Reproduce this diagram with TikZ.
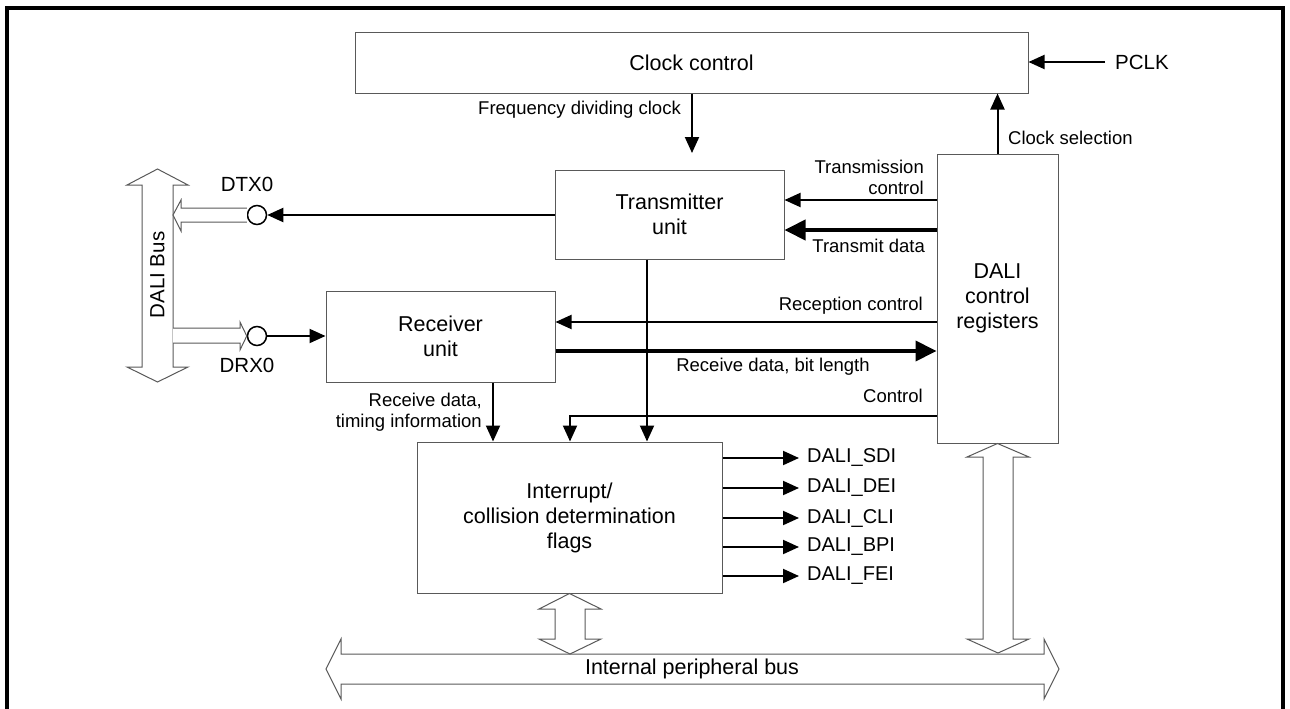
\documentclass[tikz,border=0pt]{standalone}
\usepackage{fontspec}
\setmainfont{Liberation Sans}
\usetikzlibrary{arrows.meta,calc}
\definecolor{boxgray}{gray}{0.35}
\begin{document}
\begin{tikzpicture}[x=1pt,y=-1pt,
  box/.style={draw=boxgray,line width=1pt,inner sep=0pt,align=center,font=\fontsize{21.5}{25}\selectfont},
  lbl/.style={font=\fontsize{18.5}{21}\selectfont,inner sep=0pt},
  sig/.style={font=\fontsize{20.5}{24}\selectfont,inner sep=0pt},
  flg/.style={font=\fontsize{20}{24}\selectfont,inner sep=0pt,anchor=west},
  arr/.style={line width=2pt,-{Triangle[length=16pt,width=14pt]}},
  thk/.style={line width=4pt,-{Triangle[length=21pt,width=20pt]}},
  hollow/.style={draw=boxgray,line width=1pt,fill=white,line join=miter},
  pin/.style={circle,draw=black,line width=1.5pt,fill=white,minimum size=19pt,inner sep=0pt}]
\useasboundingbox (0,0) rectangle (1290,709);
% outer frame
\draw[line width=3.3pt] (7,712) -- (7,8) -- (1283,8) -- (1283,712);

% boxes
\node[box,minimum width=673pt,minimum height=60pt] (clk) at (691.5,63) {Clock control};
\node[box,minimum width=229pt,minimum height=89pt] (tx) at (669.5,214.5) {Transmitter\\unit};
\node[box,minimum width=229pt,minimum height=91pt] (rx) at (440.5,336.5) {Receiver\\unit};
\node[box,minimum width=305pt,minimum height=151pt] (int) at (569.5,517.5) {Interrupt/\\collision determination\\flags};
\node[box,minimum width=121pt,minimum height=289pt] (reg) at (997.5,298.5) {DALI\\control\\registers};

% DALI bus (hollow double arrow)
\draw[hollow] (157.5,169) -- (188,185) -- (173,185) -- (173,367) -- (188,367) -- (157.5,382)
  -- (127,367) -- (142,367) -- (142,185) -- (127,185) -- cycle;
\node[sig,rotate=90] (bus) at (157.5,275) {DALI Bus};

% pins
\node[pin] (dtxc) at (257,215) {};
\node[pin] (drxc) at (257,336) {};
\node[sig] (dtx) at (247,184) {DTX0};
\node[sig] (drx) at (247,365) {DRX0};
\draw[hollow] (dtxc.west |- 0,208) -- (181,208) -- (181,200) -- (173,215) -- (181,231) -- (181,222) -- (dtxc.west |- 0,222);
\draw[hollow] (173,328) -- (240,328) -- (240,322) -- (dtxc.west |- 0,336) -- (240,350) -- (240,343) -- (173,343);

% clock
\coordinate (fdc) at (692,153);
\draw[arr] (clk.south -| fdc) -- (fdc);
\node[lbl,anchor=east] (fdcl) at (681,110) {Frequency dividing clock};
\coordinate (pclks) at (1105,62);
\node[sig,anchor=west] (pclk) at (1115,62) {PCLK};
\draw[arr] (pclks) -- (clk.east |- pclks);
\draw[arr] (reg.north) -- (clk.south -| reg.north);
\node[lbl,anchor=west] (csl) at (1008,138) {Clock selection};

% transmitter
\draw[arr] (reg.west |- 0,200) -- (tx.east |- 0,200);
\node[lbl,anchor=east,align=right] (tcl) at (924,177.5) {Transmission\\control};
\draw[thk] (reg.west |- 0,230) -- (tx.east |- 0,230);
\node[lbl,anchor=east] (tdl) at (925,246) {Transmit data};
\draw[arr] (tx.west |- 0,215) -- (dtxc.east);

% receiver
\draw[arr] (drxc.east) -- (rx.west |- 0,336);
\draw[arr] (reg.west |- 0,322) -- (rx.east |- 0,322);
\node[lbl,anchor=east] (rcl) at (923,306) {Reception control};
\draw[thk] (rx.east |- 0,351) -- (reg.west |- 0,351);
\node[lbl] (rdl) at (773,367) {Receive data, bit length};

% to interrupt
\draw[arr] (reg.west |- 0,416) -| (int.north -| 570,0);
\node[lbl,anchor=east] (ctl) at (923,396) {Control};
\draw[arr] (tx.south -| 647,0) -- (int.north -| 647,0);
\draw[arr] (rx.south -| 493,0) -- (int.north -| 493,0);
\node[lbl,anchor=east,align=right] (rtl) at (482,412) {Receive data,\\timing information};

% flags
\node[flg] (f1) at (807,458) {DALI\_SDI};
\node[flg] (f2) at (807,488) {DALI\_DEI};
\node[flg] (f3) at (807,518) {DALI\_CLI};
\node[flg] (f4) at (807,547) {DALI\_BPI};
\node[flg] (f5) at (807,576) {DALI\_FEI};
\foreach \f in {f1,f2,f3,f4,f5}
  \draw[arr] (int.east |- \f.west) -- ([xshift=-8pt]\f.west);

% internal bus
\draw[hollow] (326,669) -- (341,639) -- (341,654) -- (1044,654) -- (1044,639) -- (1059,669)
  -- (1044,699) -- (1044,684) -- (341,684) -- (341,699) -- cycle;
\node[font=\fontsize{21.5}{25}\selectfont,inner sep=0pt] (ipb) at (692,669) {Internal peripheral bus};
\draw[hollow] (int.south) -- (601,609) -- (585,609) -- (585,639) -- (601,639) -- (570,654)
  -- (539,639) -- (555,639) -- (555,609) -- (539,609) -- cycle;
\draw[hollow] (reg.south) -- (1029,457) -- (1013,457) -- (1013,639) -- (1029,639) -- (998,653)
  -- (967,639) -- (983,639) -- (983,457) -- (967,457) -- cycle;
\end{tikzpicture}
\end{document}
